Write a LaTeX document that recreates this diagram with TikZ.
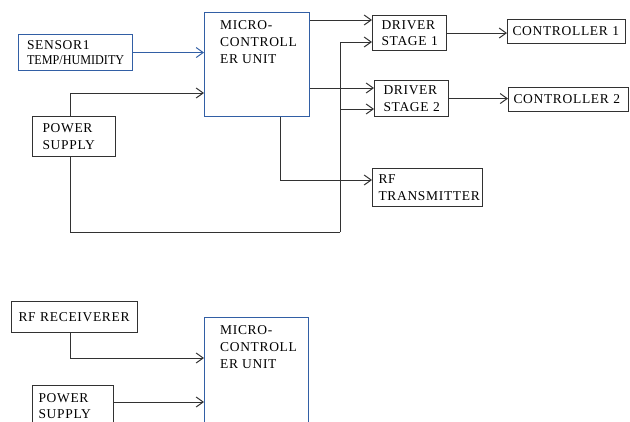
\documentclass[tikz,border=0pt]{standalone}
\usepackage{fontspec}
\setmainfont[LetterSpace=5]{Liberation Serif}
\usepackage{tikz}
\usetikzlibrary{positioning}
\usetikzlibrary{calc}
\usetikzlibrary{arrows.meta}

\definecolor{mcublue}{RGB}{50,95,165}
\definecolor{wire}{RGB}{50,50,50}

\tikzset{
    blk/.style={draw=wire, line width=1.1pt, anchor=north west, inner sep=0pt,
        align=left, font=\fontsize{13.5}{16.5}\selectfont},
    lbl/.style={anchor=north west, inner sep=0pt, align=left,
        font=\fontsize{13.5}{17}\selectfont},
    arr/.style={draw=wire, line width=1pt, -{Straight Barb[length=7pt,width=10pt]}},
    wr/.style={draw=wire, line width=1pt}
}

\begin{document}
\begin{tikzpicture}[x=1pt,y=-1pt]
    \clip (0,0) rectangle (630,421);

    % transmitter side
    \node[blk, draw=mcublue, minimum width=114pt, minimum height=36pt, text width=96pt] (sensor) at (17.5,34)
        {SENSOR1\\[-2pt]{\addfontfeatures{FakeStretch=0.9,LetterSpace=0}TEMP/HUMIDITY}};
    \node[blk, draw=mcublue, minimum width=105pt, minimum height=104pt] (mcu1) at (204,12) {};
    \node[lbl] (mcu1lbl) at (220,20) {MICRO-\\CONTROLL\\ER~UNIT};
    \node[blk, minimum width=83pt, minimum height=40pt, text width=63pt] (pwr1) at (32,116) {POWER\\SUPPLY};

    \node[blk, minimum width=74pt, minimum height=35pt, text width=56pt] (drv1) at (372,15) {DRIVER\\STAGE~1};
    \node[blk, minimum width=74pt, minimum height=36pt, text width=56pt] (drv2) at (374,80) {DRIVER\\STAGE~2};
    \node[blk, minimum width=110pt, minimum height=38pt, text width=98pt] (rftx) at (372,168) {RF\\TRANSMITTER};

    \node[blk, minimum width=118pt, minimum height=24pt, text width=108pt] (ctl1) at (507,19) {CONTROLLER~1};
    \node[blk, minimum width=120pt, minimum height=24pt, text width=110pt] (ctl2) at (508,87) {CONTROLLER~2};

    \coordinate (bus) at (340,232);

    \draw[arr, draw=mcublue] (sensor.east) -- (sensor.east -| mcu1.west);
    \draw[arr] (pwr1.north -| 70,0) |- (mcu1.west |- 0,93);
    \draw[wr] (pwr1.south -| 70,0) |- (bus);
    \draw[arr] (bus) |- (drv1.west |- 0,42);
    \draw[arr] (bus |- 0,109) -- (drv2.west |- 0,109);

    \draw[arr] (mcu1.east |- 0,20) -- (drv1.west |- 0,20);
    \draw[arr] (mcu1.east |- 0,88) -- (drv2.west |- 0,88);
    \draw[arr] (mcu1.south -| 280,0) |- (rftx.west |- 0,180);

    \draw[arr] (drv1.east) -- (drv1.east -| ctl1.west);
    \draw[arr] (drv2.east) -- (drv2.east -| ctl2.west);

    % receiver side
    \node[blk, minimum width=126pt, minimum height=31pt, text width=112pt] (rfrx) at (11,301) {RF~RECEIVERER};
    \node[blk, draw=mcublue, minimum width=104pt, minimum height=120pt] (mcu2) at (204,317) {};
    \node[lbl] (mcu2lbl) at (220,325) {MICRO-\\CONTROLL\\ER~UNIT};
    \node[blk, minimum width=81pt, minimum height=50pt, text width=69pt] (pwr2) at (32,385)
        {\rule{0pt}{0pt}\\[-16pt]POWER\\SUPPLY};

    \draw[arr] (rfrx.south -| 70,0) |- (mcu2.west |- 0,358);
    \draw[arr] (pwr2.east |- 0,402) -- (mcu2.west |- 0,402);
\end{tikzpicture}
\end{document}
